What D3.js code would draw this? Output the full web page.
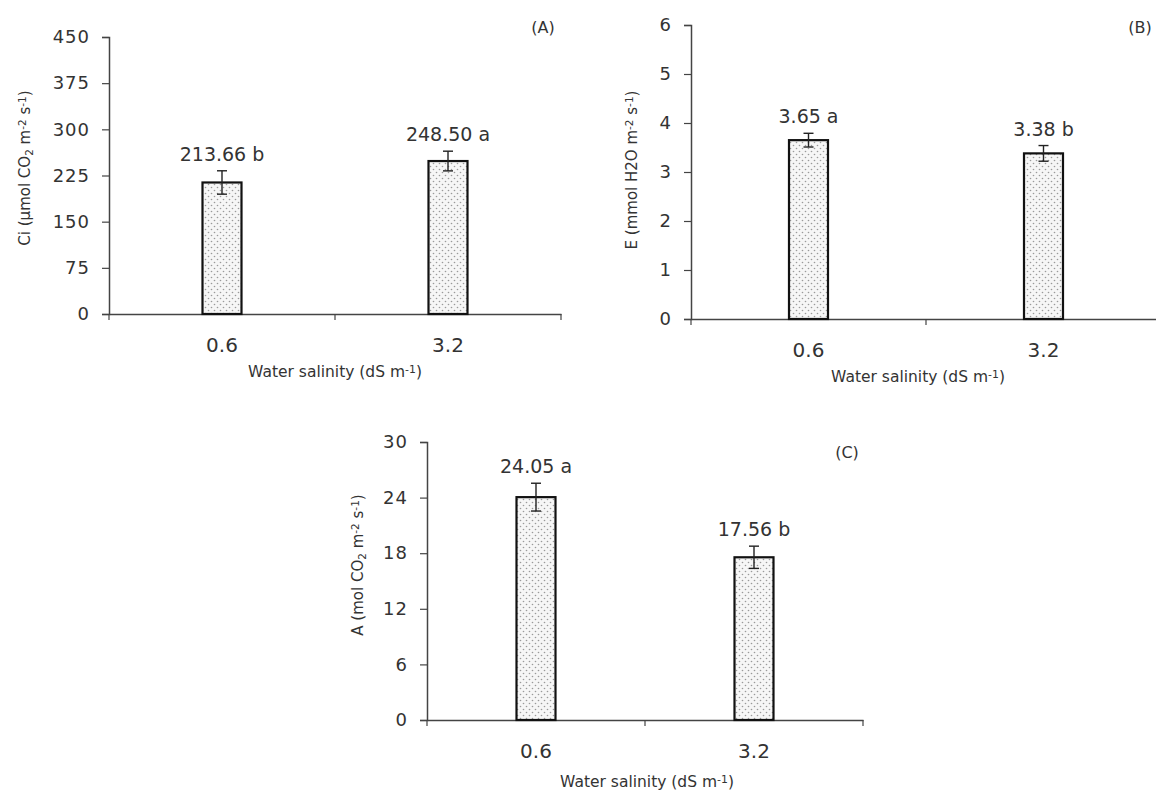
<!DOCTYPE html>
<html>
<head>
<meta charset="utf-8">
<script src="https://cdn.jsdelivr.net/npm/d3@7"></script>
<style>
  body { margin: 0; background: #fff; }
  svg text { font-family: "DejaVu Sans", sans-serif; fill: #333; }
</style>
</head>
<body>
<div id="chart"></div>
<script>
// data
let salinity = ["0.6", "3.2"];

let ciMean = [213.66, 248.50],
    ciErr = [19, 16],
    ciLetter = ["b", "a"],
    ciTicks = [0, 75, 150, 225, 300, 375, 450];

let eMean = [3.65, 3.38],
    eErr = [0.14, 0.16],
    eLetter = ["a", "b"],
    eTicks = [0, 1, 2, 3, 4, 5, 6];

let aMean = [24.05, 17.56],
    aErr = [1.5, 1.2],
    aLetter = ["a", "b"],
    aTicks = [0, 6, 12, 18, 24, 30];

let svg = d3.select('#chart').append('svg')
    .attr('width', 1156)
    .attr('height', 794);

// dotted bar fill
let pat = svg.append('defs').append('pattern')
    .attr('id', 'dots')
    .attr('patternUnits', 'userSpaceOnUse')
    .attr('width', 6).attr('height', 6);
pat.append('rect').attr('width', 6).attr('height', 6).attr('fill', '#f6f6f6');
pat.append('circle').attr('cx', 1.5).attr('cy', 1.5).attr('r', 0.8).attr('fill', '#9a9a9a');
pat.append('circle').attr('cx', 4.5).attr('cy', 4.5).attr('r', 0.8).attr('fill', '#9a9a9a');

// title with sub/superscripts: parts = [[text, mode]]
function richText(sel, parts) {
    parts.forEach(function(p) {
        let t = sel.append('tspan').text(p[0]);
        if (p[1] == 'sub') t.attr('font-size', '0.7em').attr('baseline-shift', '-25%');
        if (p[1] == 'sup') t.attr('font-size', '0.7em').attr('baseline-shift', '40%');
    });
}

let drawPanel = function(o) {
    let x = d3.scaleBand().domain(salinity).range([o.left, o.right]);
    let y = d3.scaleLinear().domain([0, o.ticks[o.ticks.length - 1]]).range([o.bottom, o.top]);
    let g = svg.append('g');

    // y axis
    let ya = g.append('g')
        .attr('transform', 'translate(' + o.left + ',0)')
        .call(d3.axisLeft(y).tickValues(o.ticks).tickFormat(d => d).tickSize(7).tickPadding(12));
    ya.select('.domain').attr('stroke', '#444').attr('stroke-width', 1.5);
    ya.selectAll('.tick line').attr('stroke', '#444').attr('stroke-width', 1.2);
    ya.selectAll('.tick text').attr('font-size', 18).attr('font-family', '"DejaVu Sans", sans-serif')
        .attr('fill', '#333').style('letter-spacing', '1px');

    // x axis
    let xa = g.append('g')
        .attr('transform', 'translate(0,' + o.bottom + ')')
        .call(d3.axisBottom(x).tickSize(0).tickPadding(24));
    xa.select('.domain').attr('stroke', '#444').attr('stroke-width', 1.5);
    xa.selectAll('.tick text').attr('font-size', 20).attr('font-family', '"DejaVu Sans", sans-serif')
        .attr('fill', '#333');
    let edges = salinity.map(d => x(d)).concat([x(salinity[salinity.length - 1]) + x.bandwidth()]);
    g.selectAll('.xtick').data(edges).enter().append('line')
        .attr('x1', d => d).attr('x2', d => d)
        .attr('y1', o.bottom).attr('y2', o.bottom + 6)
        .attr('stroke', '#444').attr('stroke-width', 1.2);

    let bw = 39;
    let cx = d => x(d) + x.bandwidth() / 2;

    g.selectAll('.bar').data(salinity).enter().append('rect')
        .attr('x', d => cx(d) - bw / 2)
        .attr('y', (d, i) => y(o.mean[i]))
        .attr('width', bw)
        .attr('height', (d, i) => y(0) - y(o.mean[i]))
        .attr('fill', 'url(#dots)')
        .attr('stroke', '#111')
        .attr('stroke-width', 2.2);

    // error bars
    salinity.forEach(function(d, i) {
        let x0 = cx(d), hi = y(o.mean[i] + o.err[i]), lo = y(o.mean[i] - o.err[i]);
        g.append('line').attr('x1', x0).attr('x2', x0).attr('y1', hi).attr('y2', lo)
            .attr('stroke', '#222').attr('stroke-width', 1.4);
        [hi, lo].forEach(function(v) {
            g.append('line').attr('x1', x0 - 5).attr('x2', x0 + 5).attr('y1', v).attr('y2', v)
                .attr('stroke', '#222').attr('stroke-width', 1.4);
        });
        g.append('text')
            .attr('x', x0).attr('y', hi - 10)
            .attr('text-anchor', 'middle')
            .attr('font-size', 19)
            .text(o.mean[i].toFixed(2) + ' ' + o.letter[i]);
    });

    // axis titles
    let yt = g.append('text')
        .attr('transform', 'translate(' + o.ytX + ',' + o.ytY + ') rotate(-90)')
        .attr('text-anchor', 'middle')
        .attr('dy', '0.35em')
        .attr('font-size', 15);
    richText(yt, o.ytitle);

    let xt = g.append('text')
        .attr('x', o.xtX).attr('y', o.xtY)
        .attr('text-anchor', 'middle')
        .attr('font-size', 15.5);
    richText(xt, [['Water salinity (dS m'], ['-1', 'sup'], [')']]);

    g.append('text')
        .attr('x', o.labX).attr('y', o.labY)
        .attr('text-anchor', 'middle')
        .attr('font-size', 16)
        .text(o.label);
};

drawPanel({
    mean: ciMean, err: ciErr, letter: ciLetter, ticks: ciTicks,
    left: 109, right: 561, top: 37, bottom: 314,
    ytitle: [['Ci (µmol CO'], ['2', 'sub'], [' m'], ['-2', 'sup'], [' s'], ['-1', 'sup'], [')']],
    ytX: 25, ytY: 168, xtX: 335, xtY: 377,
    label: '(A)', labX: 543, labY: 33
});

drawPanel({
    mean: eMean, err: eErr, letter: eLetter, ticks: eTicks,
    left: 691, right: 1161, top: 25, bottom: 319,
    ytitle: [['E (mmol H2O m'], ['-2', 'sup'], [' s'], ['-1', 'sup'], [')']],
    ytX: 632, ytY: 170, xtX: 918, xtY: 382,
    label: '(B)', labX: 1140, labY: 33
});

drawPanel({
    mean: aMean, err: aErr, letter: aLetter, ticks: aTicks,
    left: 427, right: 863, top: 442, bottom: 720,
    ytitle: [['A (mol CO'], ['2', 'sub'], [' m'], ['-2', 'sup'], [' s'], ['-1', 'sup'], [')']],
    ytX: 358, ytY: 565, xtX: 647, xtY: 787,
    label: '(C)', labX: 847, labY: 458
});
</script>
</body>
</html>
